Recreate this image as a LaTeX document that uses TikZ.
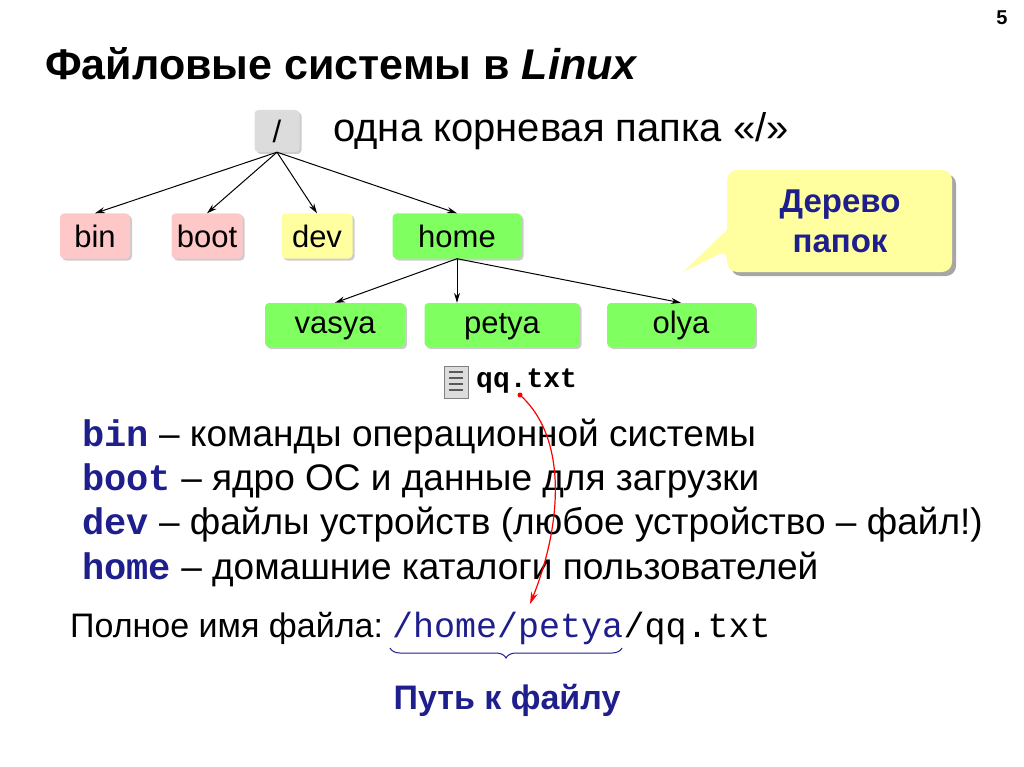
\documentclass[tikz,border=0pt]{standalone}
\usepackage{fontspec}
\setmainfont{Liberation Sans}
\setmonofont{Liberation Mono}
\usetikzlibrary{arrows.meta,decorations.pathreplacing,shadows}
\definecolor{dblue}{RGB}{30,30,140}
\definecolor{pinkf}{RGB}{255,200,200}
\definecolor{yelf}{RGB}{255,255,160}
\definecolor{grnf}{RGB}{128,255,96}
\definecolor{grayf}{RGB}{220,220,220}
\begin{document}
\begin{tikzpicture}[x=1pt,y=-1pt,
  box/.style={rounded corners=4pt,font=\fontsize{31}{31}\selectfont,inner sep=0pt,drop shadow={shadow xshift=2pt,shadow yshift=-2pt,opacity=0.4}},
  arr/.style={-{Stealth[length=10pt,width=6pt]},line width=1pt},
  body/.style={anchor=west,font=\fontsize{37}{37}\selectfont,inner sep=0pt}]
\useasboundingbox (0,0) rectangle (1024,767);
\node[font=\bfseries\fontsize{20}{20}\selectfont] (pg) at (1002,18) {5};
\node[anchor=west,font=\bfseries\fontsize{43}{43}\selectfont,inner sep=0pt] (title) at (45,64) {Файловые системы в \textit{Linux}};
\node[box,fill=grayf,minimum width=45pt,minimum height=42pt] (root) at (277,131) {/};
\node[anchor=west,font=\fontsize{40}{40}\selectfont,inner sep=0pt] (rt) at (333,131) {одна корневая папка «/»};
\node[box,fill=pinkf,minimum width=70pt,minimum height=45pt] (bin) at (95,236) {bin};
\node[box,fill=pinkf,minimum width=71pt,minimum height=45pt] (boot) at (207,236) {boot};
\node[box,fill=yelf,minimum width=71pt,minimum height=45pt] (dev) at (317,236) {dev};
\node[box,fill=grnf,minimum width=129pt,minimum height=45pt] (home) at (457,236) {home};
\node[box,fill=grnf,minimum width=140pt,minimum height=44pt] (vasya) at (335,325) {vasya\vphantom{h}};
\node[box,fill=grnf,minimum width=155pt,minimum height=44pt] (petya) at (502,325) {petya\vphantom{h}};
\node[box,fill=grnf,minimum width=148pt,minimum height=44pt] (olya) at (681,325) {olya};
\draw[arr] (root.south) -- (bin.north);
\draw[arr] (root.south) -- (boot.north);
\draw[arr] (root.south) -- (dev.north);
\draw[arr] (root.south) -- (home.north);
\draw[arr] (home.south) -- (vasya.north);
\draw[arr] (home.south) -- (petya.north-|home.south);
\draw[arr] (home.south) -- (olya.north);
% callout
\coordinate (tip) at (683,272);
\fill[black,opacity=0.35,rounded corners=10pt] (731,174) rectangle (956,276);
\fill[yelf,rounded corners=10pt] (727,170) -- (952,170) -- (952,272) -- (727,272) -- (727,250) [sharp corners]-- (tip) -- (727,230) [rounded corners=10pt]-- cycle;
\node[font=\bfseries\fontsize{33}{40}\selectfont,text=dblue,align=center] (cal) at (840,221) {Дерево\\папок};
% file icon
\node[draw=gray,fill=grayf,minimum width=24pt,minimum height=32pt,inner sep=0pt] (icon) at (456,382) {};
\foreach \yy in {372,378,384,390}{\draw[gray!70!black,line width=2pt] (449,\yy) -- (463,\yy);}
\node[anchor=west,font=\ttfamily\bfseries\fontsize{28}{28}\selectfont,inner sep=0pt] (qq) at (476,381) {qq.txt};
\node[body] (l1) at (82,437) {\textcolor{dblue}{\ttfamily\bfseries bin} – команды операционной системы};
\node[body] (l2) at (82,481) {\textcolor{dblue}{\ttfamily\bfseries boot} – ядро ОС и данные для загрузки};
\node[body] (l3) at (82,525) {\textcolor{dblue}{\ttfamily\bfseries dev} – файлы устройств (любое устройство – файл!)};
\node[body] (l4) at (82,569) {\textcolor{dblue}{\ttfamily\bfseries home} – домашние каталоги пользователей};
\node[anchor=west,font=\fontsize{34}{34}\selectfont,inner sep=0pt] (full) at (70,628) {Полное имя файла:};
\node[anchor=west,font=\ttfamily\fontsize{35}{35}\selectfont,text=dblue,inner sep=0pt] (hp) at (392,628) {/home/petya};
\node[anchor=west,font=\ttfamily\fontsize{35}{35}\selectfont,inner sep=0pt] (qt) at (hp.east) {/qq.txt};
\draw[decorate,decoration={brace,mirror,amplitude=10pt},line width=1pt,dblue] (390,648) -- (622,648);
\node[font=\bfseries\fontsize{34}{34}\selectfont,text=dblue] (path) at (507,700) {Путь к файлу};
\coordinate (rs) at (520,395);
\coordinate (re) at (530,604);
\fill[red] (rs) circle (2.5pt);
\draw[red,line width=1.2pt,-{Stealth[length=12pt,width=7pt]}] (rs) .. controls (570,440) and (560,530) .. (re);
\end{tikzpicture}
\end{document}
